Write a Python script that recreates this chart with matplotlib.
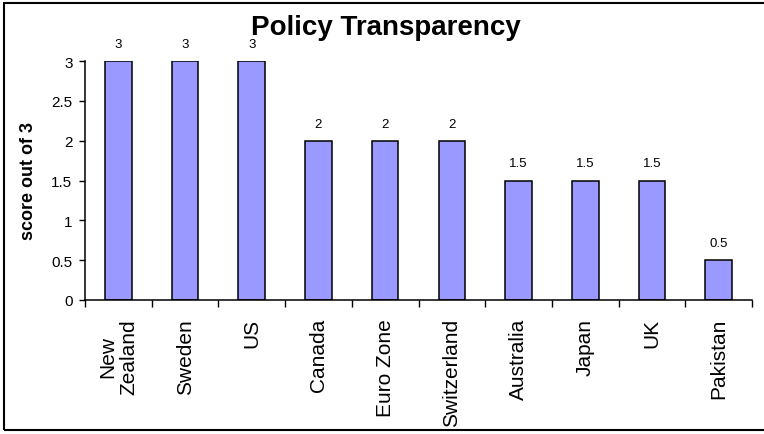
import matplotlib.pyplot as plt
from matplotlib.patches import Rectangle

plt.rcParams['font.family'] = ['Liberation Sans', 'DejaVu Sans']

# datos
countries = ['New\nZealand', 'Sweden', 'US', 'Canada', 'Euro Zone',
             'Switzerland', 'Australia', 'Japan', 'UK', 'Pakistan']
scores = [3, 3, 3, 2, 2, 2, 1.5, 1.5, 1.5, 0.5]
value_labels = ['3', '3', '3', '2', '2', '2', '1.5', '1.5', '1.5', '0.5']
yticks = [0, 0.5, 1, 1.5, 2, 2.5, 3]
ytick_labels = ['0', '0.5', '1', '1.5', '2', '2.5', '3']

W, H = 764, 435
fig = plt.figure(figsize=(W / 100, H / 100), dpi=100)
ax = fig.add_axes([85 / W, 1 - 301 / H, (752 - 85) / W, (301 - 62) / H])

x = list(range(len(countries)))
bars = ax.bar(x, scores, width=0.4, color='#9999FF', edgecolor='black', linewidth=1.1)

for b, lab in zip(bars, value_labels):
    ax.annotate(lab, (b.get_x() + b.get_width() / 2, b.get_height()),
                xytext=(0, 8), textcoords='offset points',
                ha='center', va='bottom', fontsize=9.5)

ax.set_xlim(-0.5, len(countries) - 0.5)
ax.set_ylim(0, 3)
ax.set_yticks(yticks)
ax.set_yticklabels(ytick_labels, fontsize=11)

# ticks entre categorias
ax.set_xticks([i - 0.5 for i in range(len(countries) + 1)])
ax.set_xticklabels([])
ax.tick_params(axis='x', length=5, width=1, direction='out')
ax.tick_params(axis='y', length=4, width=1, direction='out', pad=5)
for i, name in enumerate(countries):
    ax.annotate(name, (i, 0), xytext=(0, -13), textcoords='offset points',
                rotation=90, ha='center', va='top', multialignment='center',
                fontsize=15, annotation_clip=False)

ax.spines['top'].set_visible(False)
ax.spines['right'].set_visible(False)
ax.spines['left'].set_linewidth(1.1)
ax.spines['bottom'].set_linewidth(1.1)

ax.set_ylabel('score out of 3', fontsize=13, fontweight='bold', labelpad=10)
fig.text(386 / W, 1 - 28 / H, 'Policy Transparency', ha='center', va='center',
         fontsize=20, fontweight='bold')

# marco exterior
fig.patches.append(Rectangle((4 / W, 4 / H), 1.0, 1 - 8 / H, transform=fig.transFigure,
                             fill=False, edgecolor='black', linewidth=1.5))

fig.savefig('out.png', dpi=100)
